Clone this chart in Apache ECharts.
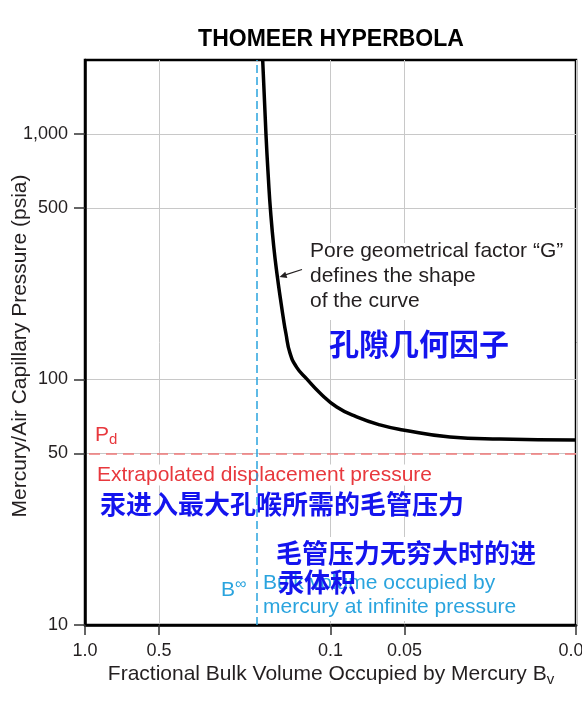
<!DOCTYPE html>
<html><head><meta charset="utf-8">
<script src="https://cdn.jsdelivr.net/npm/echarts@6/dist/echarts.min.js"></script>
<style>html,body{margin:0;padding:0;background:#fff}#c{width:582px;height:718px}</style>
</head><body><div id="c"></div>
<script>
// ---- data ----
const bulkVolume = [0.1889,0.1832,0.1789,0.1756,0.1702,0.1646,0.1597,0.1553,0.1521,0.1462,0.1373,0.1250,0.1104,0.0943,0.0782,0.0629,0.0507,0.0326,0.0204,0.0100];
const capPressure = [2000,1000,649,490,346,262,211,175,155,128,112,100.5,88.1,77.3,70.4,65.3,62.3,58.3,57.2,56.7];
const xTickValues = [1.0,0.5,0.1,0.05,0.01];
const xTickLabels = ['1.0','0.5','0.1','0.05','0.01'];
const yTickValues = [10,50,100,500,1000];
const yTickLabels = ['10','50','100','500','1,000'];
const displacementPressure = 50;
const bInfinity = 0.2;

function lookup(vals, labels, v){
  for (let i=0;i<vals.length;i++){ if (Math.abs(vals[i]-v) <= vals[i]*1e-6) return labels[i]; }
  return '';
}
const FONT = 'Liberation Sans, Arial, Helvetica, sans-serif';
const CJK = 'Noto Sans CJK SC';
const chart = echarts.init(document.getElementById('c'), null, {renderer:'canvas'});
const option = {
  animation:false,
  backgroundColor:'#fff',
  grid:{left:85,right:6,top:60,bottom:93,containLabel:false,outerBoundsMode:'none',show:true,borderColor:'#000',borderWidth:2.5,backgroundColor:'transparent'},
  xAxis:{
    type:'log', logBase:10, min:0.01, max:1, inverse:true,
    axisLine:{show:true,onZero:false,lineStyle:{color:'#000',width:2.5}},
    axisTick:{show:true,inside:false,length:10,customValues:xTickValues,lineStyle:{color:'#333',width:1.5}},
    axisLabel:{show:true,customValues:xTickValues,margin:17,fontSize:18,fontFamily:FONT,color:'#231f20',showMinLabel:true,showMaxLabel:true,hideOverlap:false,
      formatter:v=>lookup(xTickValues,xTickLabels,v)},
    splitLine:{show:true,lineStyle:{color:'#c8c8c8',width:1}},
    minorTick:{show:false},minorSplitLine:{show:false}
  },
  yAxis:{
    type:'log', logBase:10, min:10, max:2000,
    axisLine:{show:true,onZero:false,lineStyle:{color:'#000',width:2.5}},
    axisTick:{show:true,inside:false,length:11,customValues:yTickValues,lineStyle:{color:'#333',width:1.5}},
    axisLabel:{show:true,customValues:yTickValues,margin:17,fontSize:18,fontFamily:FONT,color:'#231f20',showMinLabel:true,showMaxLabel:true,hideOverlap:false,
      formatter:v=>lookup(yTickValues,yTickLabels,v)},
    splitLine:{show:true,lineStyle:{color:'#c8c8c8',width:1}},
    minorTick:{show:false},minorSplitLine:{show:false}
  },
  series:[{
    type:'line', z:4,
    data: bulkVolume.map((b,i)=>[b,capPressure[i]]),
    smooth:0.5, showSymbol:false, clip:true,
    lineStyle:{color:'#000',width:3.5,join:'round'},
    markLine:{
      silent:true, symbol:['none','none'], label:{show:false},
      data:[
        {yAxis:displacementPressure, lineStyle:{color:'#f07878',width:1.6,type:[11,6]}},
        {xAxis:bInfinity, lineStyle:{color:'#2aa4de',width:1.5,type:[8,4]}}
      ]
    }
  }],
  graphic:[
    {type:'text', x:331, y:40, z:5, style:{text:'THOMEER HYPERBOLA', fontSize:23, fontWeight:'bold', fontFamily:FONT, fill:'#000', align:'center', verticalAlign:'middle'}},
    {type:'text', x:20, y:346, rotation:Math.PI/2, z:5, style:{text:'Mercury/Air Capillary Pressure (psia)', fontSize:21, fontFamily:FONT, fill:'#231f20', align:'center', verticalAlign:'middle'}},
    {type:'text', x:331, y:674, z:5, style:{text:'{m|Fractional Bulk Volume Occupied by Mercury B}{s|v}', align:'center', verticalAlign:'middle',
      rich:{m:{fontSize:21,fontFamily:FONT,fill:'#231f20',lineHeight:26},s:{fontSize:15,fontFamily:FONT,fill:'#231f20',lineHeight:26,verticalAlign:'bottom'}}}},
    // white boxes hiding grid lines behind annotations
    {type:'rect', z:1, shape:{x:263,y:537,width:278,height:84}, style:{fill:'#fff'}},
    {type:'text', x:307, y:243, z:3, style:{text:'Pore geometrical factor “G”\ndefines the shape\nof the curve', fontSize:21, fontFamily:FONT, fill:'#231f20', lineHeight:25, backgroundColor:'#fff', padding:[-4,2,6,3], align:'left', verticalAlign:'top'}},
    {type:'line', z:3, shape:{x1:302,y1:269.5,x2:283,y2:275.6}, style:{stroke:'#231f20',lineWidth:1.3}},
    {type:'polygon', z:3, shape:{points:[[279.5,277],[287.3,277.9],[285.3,271.8]]}, style:{fill:'#231f20'}},
    {type:'text', x:329, y:344, z:3, style:{text:'孔隙几何因子', fontSize:30, fontWeight:'bold', fontFamily:CJK, fill:'#1414ee', align:'left', verticalAlign:'middle'}},
    {type:'text', x:95, y:435, z:3, style:{text:'{p|P}{d|d}', align:'left', verticalAlign:'middle',
      rich:{p:{fontSize:21,fontFamily:FONT,fill:'#e8383d',lineHeight:24},d:{fontSize:15,fontFamily:FONT,fill:'#e8383d',lineHeight:24,verticalAlign:'bottom'}}}},
    {type:'text', x:96, y:475, z:3, style:{text:'Extrapolated displacement pressure', fontSize:21, fontFamily:FONT, fill:'#e8383d', backgroundColor:'#fff', padding:[0,2,0,1], align:'left', verticalAlign:'middle'}},
    {type:'text', x:100, y:504, z:3, style:{text:'汞进入最大孔喉所需的毛管压力', fontSize:26, fontWeight:'bold', fontFamily:CJK, fill:'#1414ee', align:'left', verticalAlign:'middle'}},
    {type:'text', x:221, y:590, z:3, style:{text:'{b|B}{s|∞}', align:'left', verticalAlign:'middle',
      rich:{b:{fontSize:21,fontFamily:FONT,fill:'#2aa4de',lineHeight:26},s:{fontSize:16,fontFamily:FONT,fill:'#2aa4de',lineHeight:26,verticalAlign:'top'}}}},
    {type:'text', x:263, y:571, z:3, style:{text:'Bulk volume occupied by\nmercury at infinite pressure', fontSize:21, fontFamily:FONT, fill:'#2aa4de', lineHeight:24, align:'left', verticalAlign:'top'}},
    {type:'text', x:276, y:553, z:4, style:{text:'毛管压力无穷大时的进', fontSize:26, fontWeight:'bold', fontFamily:CJK, fill:'#1414ee', align:'left', verticalAlign:'middle'}},
    {type:'text', x:278, y:582, z:4, style:{text:'汞体积', fontSize:26, fontWeight:'bold', fontFamily:CJK, fill:'#1414ee', align:'left', verticalAlign:'middle'}}
  ]
};
chart.setOption(option);
</script>
</body></html>
